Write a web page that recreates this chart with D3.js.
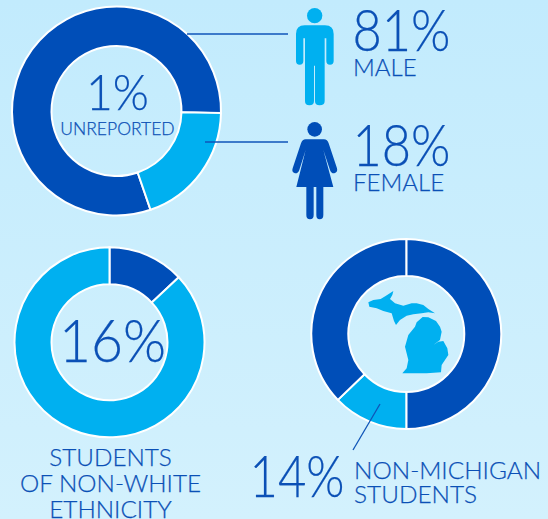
<!DOCTYPE html>
<html>
<head>
<meta charset="utf-8">
<script src="https://cdn.jsdelivr.net/npm/d3@7"></script>
<style>
  html, body { margin: 0; padding: 0; }
  text { font-family: "Lato", sans-serif; font-weight: 300; fill: #0b50b6; stroke: #0b50b6; stroke-width: 0.25; }
</style>
</head>
<body>
<div id="chart"></div>
<script>
const width = 548;
const height = 519;

const dark = "#004eb8";
const light = "#00b0f0";

const genderLabels = ["Male", "Female"];
const genderValues = [80.6, 19.4];
const ethnicityLabels = ["White", "Non-white"];
const ethnicityValues = [13, 87];
const michiganLabels = ["Michigan", "Non-Michigan", "Michigan"];
const michiganValues = [50, 12.8, 37.2];

const svg = d3.select("#chart").append("svg")
  .attr("width", width)
  .attr("height", height)
  .style("display", "block");

const lg = svg.append("linearGradient")
  .attr("id", "bg")
  .attr("x1", "0%").attr("y1", "0%")
  .attr("x2", "0%").attr("y2", "100%");
lg.append("stop").attr("offset", "0%").style("stop-color", "#c2ebfd");
lg.append("stop").attr("offset", "100%").style("stop-color", "#d3f1fd");

svg.append("rect")
  .attr("width", width)
  .attr("height", height)
  .attr("fill", "url(#bg)");

const drawDonut = (cx, cy, outer, inner, values, colors, startDeg) => {
  const pie = d3.pie().sort(null)
    .startAngle(startDeg * Math.PI / 180)
    .endAngle((startDeg + 360) * Math.PI / 180);
  const arc = d3.arc().innerRadius(inner).outerRadius(outer);
  svg.append("g")
    .attr("transform", `translate(${cx},${cy})`)
    .selectAll("path")
    .data(pie(values))
    .join("path")
    .attr("d", arc)
    .attr("fill", (d, i) => colors[i])
    .attr("stroke", "#fff")
    .attr("stroke-width", 2);
};

drawDonut(116.5, 111, 104.5, 65, genderValues, [dark, light], 161);
drawDonut(109.5, 342.3, 95, 58, ethnicityValues, [dark, light], 0);
drawDonut(406.3, 334, 95, 58, michiganValues, [dark, light, dark], 0);

const label = (x, y, str, size, anchor = "start", len = null) => {
  const t = svg.append("text")
    .attr("x", x).attr("y", y)
    .attr("font-size", size)
    .attr("text-anchor", anchor)
    .text(str);
  // big numbers are narrower in the original face
  if (len) t.attr("textLength", len).attr("lengthAdjust", "spacingAndGlyphs");
  return t;
};

// leader lines
const leader = (x1, y1, x2, y2) =>
  svg.append("line")
    .attr("x1", x1).attr("y1", y1).attr("x2", x2).attr("y2", y2)
    .attr("stroke", "#0f55b8")
    .attr("stroke-width", 1.3);
leader(187, 34, 288, 34);
leader(205, 142, 288, 142);
leader(380, 404, 353, 450);

label(117.5, 110, "1%", 50, "middle", 63);
label(117.5, 135, "UNREPORTED", 17.5, "middle");
label(352.5, 51, "81%", 57, "start", 98);
label(353, 76, "MALE", 24);
label(352.5, 166, "18%", 57, "start", 98);
label(353, 191, "FEMALE", 24);
label(112.5, 362, "16%", 60, "middle", 107);
label(110.5, 466, "STUDENTS", 24.3, "middle");
label(110.5, 492, "OF NON-WHITE", 24.3, "middle");
label(110.5, 517.5, "ETHNICITY", 24.3, "middle");
label(249.5, 497, "14%", 57, "start", 95);
label(354, 479, "NON-MICHIGAN", 24.4);
label(354, 503, "STUDENTS", 24.4);

// icons, drawn at 3x
const icons = svg.append("g").attr("transform", "translate(274,0) scale(0.3333)");
icons.append("circle").attr("cx", 122).attr("cy", 47).attr("r", 23).attr("fill", light);
icons.append("path").attr("fill", light)
  .attr("d", "M92 76H153Q179 76 179 102V183Q179 194 168 194Q157 194 157 183V115H152V303Q152 316 137 316Q123 316 123 303V197H120V303Q120 316 106 316Q93 316 93 303V115H88V183Q88 194 77 194Q66 194 66 183V102Q66 76 92 76Z");
icons.append("circle").attr("cx", 122).attr("cy", 388).attr("r", 22).attr("fill", dark);
icons.append("path").attr("fill", dark)
  .attr("d", "M95 418H150Q160 418 164 430L189 505Q192 517 181 520Q172 521 168 510L148 450L178 561H148V645Q148 658 137 658Q127 658 127 645V561H119V645Q119 658 108 658Q97 658 97 645V561H67L95 450L76 510Q72 521 63 520Q52 517 56 505L81 430Q85 418 95 418Z");

// michigan outline
svg.append("path")
  .attr("transform", "translate(360,285) scale(0.3333)")
  .attr("fill", light)
  .attr("d", "M25 52L40 45L62 42L78 32L100 18L97 30L90 42L105 55L130 62L155 55L170 55L190 60L205 72L225 85L205 82L185 85L160 88L140 92L120 105L108 120L102 108L95 85L70 78L50 70L28 65Z M188 96L205 97L228 108L240 125L245 140L240 165L220 180L235 170L250 168L262 190L265 210L255 225L245 240L243 262L200 265L127 265L140 250L145 225L135 185L145 150L165 125L170 112Z");
</script>
</body>
</html>
